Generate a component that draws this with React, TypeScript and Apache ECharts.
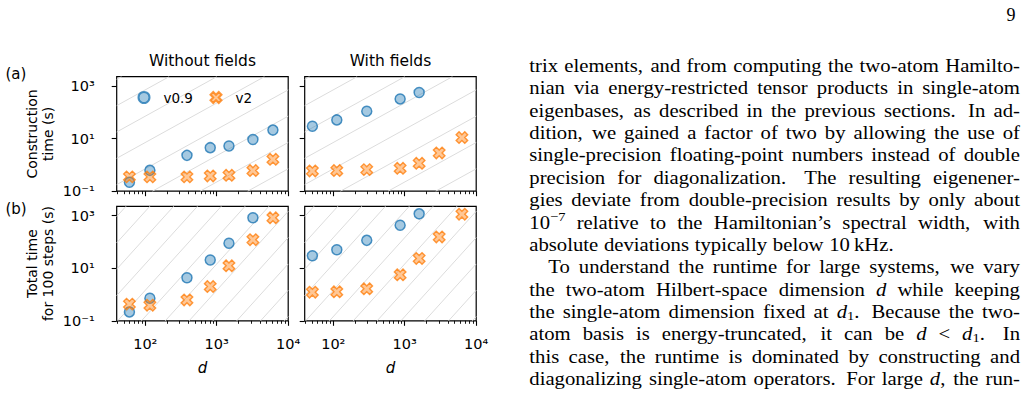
import React, { useEffect, useRef } from 'react';
import * as echarts from 'echarts';

// ---------------- data ----------------
const panelTitles = ['Without fields', 'With fields'];
const rowLabels = ['(a)', '(b)'];
const rowAxisTitles = ['Construction\ntime (s)', 'Total time\nfor 100 steps (s)'];
const seriesNames = ['v0.9', 'v2'];
const xAxisTitle = 'd';

const dWithout = [60, 116, 383, 811, 1482, 3206, 6110];
const dWith = [51, 112, 294, 862, 1591, 3034, 6310];

const constrWithoutV09 = [0.218, 0.62, 2.3, 4.5, 5.2, 9.2, 21];
const constrWithoutV2 = [0.35, 0.35, 0.35, 0.38, 0.4, 0.61, 1.63];
const constrWithV09 = [29.4, 51, 109, 320, 561];
const constrWithV2 = [0.59, 0.61, 0.66, 0.74, 1.15, 2.84, 10.9];
const totalWithoutV09 = [0.217, 0.72, 4.3, 20.4, 88, 820];
const totalWithoutV2 = [0.43, 0.39, 0.62, 2.0, 12.3, 121, 820];
const totalWithV09 = [29.7, 50, 114, 427, 1160];
const totalWithV2 = [1.22, 1.26, 1.64, 5.6, 23.4, 154, 1120];

const xTickExponents = [2, 3, 4];
const yTickExponents = [-1, 1, 3];
const xLogRange = [1.6, 4];
const yLogRange = [-1, 3.35];
const guideSlopes = [1.5, 3];
const guidePhases = [-0.15, 0.16];

const pageNumber = '9';
const bodyLines = [
  'trix elements, and from computing the two-atom Hamilto-',
  'nian via energy-restricted tensor products in single-atom',
  'eigenbases, as described in the previous sections. In ad-',
  'dition, we gained a factor of two by allowing the use of',
  'single-precision floating-point numbers instead of double',
  'precision for diagonalization. The resulting eigenener-',
  'gies deviate from double-precision results by only about',
  '10^{\u22127} relative to the Hamiltonian\u2019s spectral width, with',
  'absolute deviations typically below 10\u2009kHz.',
  'To understand the runtime for large systems, we vary',
  'the two-atom Hilbert-space dimension *d* while keeping',
  'the single-atom dimension fixed at *d*_{1}. Because the two-',
  'atom basis is energy-truncated, it can be *d* < *d*_{1}. In',
  'this case, the runtime is dominated by constructing and',
  'diagonalizing single-atom operators. For large *d*, the run-',
];
const paragraphEndLines = [8];
const indentedLines = [9];

// ---------------- layout ----------------
const SANS = '"DejaVu Sans"';
const SERIF = '"Liberation Serif"';
const colLeft = [116.7, 304.7];
const rowTop = [76.7, 206.3];
const panelW = 171.5;
const panelH = 114.5;

const SUP: Record<string, string> = { '-': '\u207b', '0': '\u2070', '1': '\u00b9', '2': '\u00b2', '3': '\u00b3', '4': '\u2074', '5': '\u2075', '6': '\u2076', '7': '\u2077', '8': '\u2078', '9': '\u2079' };
const powLabel = (v: number) => '10' + String(Math.round(v)).split('').map((c) => SUP[c] || c).join('');

const xPlus = [[-1, -2], [0, -1], [1, -2], [2, -1], [1, 0], [2, 1], [1, 2], [0, 1], [-1, 2], [-2, 1], [-1, 0], [-2, -1]];
const xSymbol = 'path://' + xPlus.map((p, i) => (i ? 'L' : 'M') + (p[0] + 2) + ' ' + (p[1] + 2)).join('') + 'Z';

function minorTicks(): number[] {
  const out: number[] = [];
  for (let n = 1; n <= 3; n++) for (let k = 2; k <= 9; k++) {
    const v = Math.log10(k * Math.pow(10, n));
    if (v >= xLogRange[0] && v <= xLogRange[1]) out.push(v);
  }
  return out;
}

function guides(p: number, phase: number) {
  const [x0, x1] = xLogRange;
  const [y0, y1] = yLogRange;
  const res: any[] = [];
  for (let c = Math.floor(y0 - p * x1) - 1 + phase; c <= y1 - p * x0 + 1; c += 1) {
    const xa = Math.max(x0, (y0 - c) / p);
    const xb = Math.min(x1, (y1 - c) / p);
    if (xb - xa > 1e-6) res.push({ coords: [[xa, p * xa + c], [xb, p * xb + c]] });
  }
  return res;
}

function buildBodyText(): any[] {
  const canvas = document.createElement('canvas');
  const ctx = canvas.getContext('2d')!;
  const size = 18;
  const sx = 1.15;
  const left = 529.3, right = 1020, y0 = 66, step = 22.36, indent = 19;
  const els: any[] = [];
  const parse = (w: string) => w.split(/(\*[^*]+\*|_\{[^}]*\}|\^\{[^}]*\})/).filter((s) => s.length).map((s) => {
    if (s[0] === '*') return { text: s.slice(1, -1), font: `italic ${size}px ${SERIF}`, dy: 0 };
    if (s.startsWith('_{')) return { text: s.slice(2, -1), font: `${size * 0.7}px ${SERIF}`, dy: 4 };
    if (s.startsWith('^{')) return { text: s.slice(2, -1), font: `${size * 0.7}px ${SERIF}`, dy: -6 };
    return { text: s, font: `${size}px ${SERIF}`, dy: 0 };
  });
  const meas = (t: string, f: string) => { ctx.font = f; return ctx.measureText(t).width * sx; };
  const spaceW = meas(' ', `${size}px ${SERIF}`) * 1.1;
  bodyLines.forEach((line, li) => {
    const words = line.split(' ').map((w) => {
      const segs = parse(w).map((s) => ({ ...s, w: meas(s.text, s.font) }));
      return { segs, w: segs.reduce((a, s) => a + s.w, 0), raw: w };
    });
    const x0 = left + (indentedLines.includes(li) ? indent : 0);
    const total = words.reduce((a, w) => a + w.w, 0);
    const weights = words.slice(0, -1).map((w) => (/[.]$/.test(w.raw) ? 1.5 : /[,]$/.test(w.raw) ? 1.15 : 1));
    const wsum = weights.reduce((a, b) => a + b, 0);
    const justify = !paragraphEndLines.includes(li);
    const unit = justify ? (right - x0 - total) / wsum : spaceW;
    let x = x0;
    const y = y0 + li * step;
    words.forEach((w, wi) => {
      let px = x;
      w.segs.forEach((s) => {
        els.push({ type: 'text', x: px, y: y + s.dy, scaleX: sx, scaleY: 1, silent: true, style: { text: s.text, font: s.font, fill: '#000', textAlign: 'left', textVerticalAlign: 'middle', align: 'left', verticalAlign: 'middle' } });
        px += s.w;
      });
      x += w.w + (wi < weights.length ? unit * weights[wi] : 0);
    });
  });
  return els;
}

export default function App() {
  const ref = useRef<HTMLDivElement>(null);
  useEffect(() => {
    if (!ref.current) return;
    const chart = echarts.init(ref.current, undefined, { renderer: 'svg' });
    const panels = [
      { row: 0, col: 0, d: dWithout, a: constrWithoutV09, b: constrWithoutV2 },
      { row: 0, col: 1, d: dWith, a: constrWithV09, b: constrWithV2 },
      { row: 1, col: 0, d: dWithout, a: totalWithoutV09, b: totalWithoutV2 },
      { row: 1, col: 1, d: dWith, a: totalWithV09, b: totalWithV2 },
    ];
    const minor = minorTicks();
    const grid: any[] = [], xAxis: any[] = [], yAxis: any[] = [], series: any[] = [];
    const tickStyle = { color: '#000', width: 1.1 };
    const labelStyle = { color: '#000', fontSize: 14.5, fontFamily: SANS };
    panels.forEach((p, i) => {
      grid.push({ left: colLeft[p.col], top: rowTop[p.row], width: panelW, height: panelH, show: true, borderColor: '#000', borderWidth: 1.2, backgroundColor: 'transparent' });
      xAxis.push({
        type: 'value', gridIndex: i, min: xLogRange[0], max: xLogRange[1], position: 'bottom', offset: 0,
        axisLine: { show: false, onZero: false }, splitLine: { show: false },
        axisTick: { show: true, customValues: xTickExponents, length: 5, lineStyle: tickStyle },
        axisLabel: { show: p.row === 1, customValues: xTickExponents, formatter: powLabel, margin: 16, ...labelStyle },
      });
      xAxis.push({
        type: 'value', gridIndex: i, min: xLogRange[0], max: xLogRange[1], position: 'bottom', offset: 0,
        axisLine: { show: false, onZero: false }, splitLine: { show: false },
        axisTick: { show: true, customValues: minor, length: 3, lineStyle: { color: '#000', width: 0.9 } },
        axisLabel: { show: false, customValues: minor },
      });
      yAxis.push({
        type: 'value', gridIndex: i, min: yLogRange[0], max: yLogRange[1], position: 'left', offset: 0,
        axisLine: { show: false, onZero: false }, splitLine: { show: false },
        axisTick: { show: true, customValues: yTickExponents, length: 5, lineStyle: tickStyle },
        axisLabel: { show: p.col === 0, customValues: yTickExponents, formatter: powLabel, margin: 22, padding: [8, 0, 0, 0], ...labelStyle },
      });
      series.push({
        type: 'lines', coordinateSystem: 'cartesian2d', xAxisIndex: 2 * i, yAxisIndex: i, silent: true, z: 1,
        lineStyle: { color: '#dcdcdc', width: 1, opacity: 1 }, data: guides(guideSlopes[p.row], guidePhases[p.row]),
      });
      series.push({
        type: 'scatter', name: seriesNames[0], xAxisIndex: 2 * i, yAxisIndex: i, symbol: 'circle', symbolSize: 10, z: 3,
        itemStyle: { color: 'rgba(31,119,180,0.5)', borderColor: '#1f77b4', borderWidth: 1.5 },
        emphasis: { disabled: true },
        data: p.a.map((t, k) => [Math.log10(p.d[k]), Math.log10(t)]),
      });
      series.push({
        type: 'scatter', name: seriesNames[1], xAxisIndex: 2 * i, yAxisIndex: i, symbol: xSymbol, symbolSize: 11.5, z: 3,
        itemStyle: { color: 'rgba(255,127,14,0.55)', borderColor: '#ff7f0e', borderWidth: 1.4 },
        emphasis: { disabled: true },
        data: p.b.map((t, k) => [Math.log10(p.d[k]), Math.log10(t)]),
      });
    });
    const legendText = { color: '#000', fontSize: 13.5, fontFamily: SANS, padding: [0, 0, 0, 9] };
    const graphic: any[] = [];
    panelTitles.forEach((t, c) => graphic.push({ type: 'text', x: colLeft[c] + panelW / 2, y: 61, silent: true, style: { text: t, font: `15.5px ${SANS}`, fill: '#000', textAlign: 'center', textVerticalAlign: 'middle', align: 'center', verticalAlign: 'middle' } }));
    rowLabels.forEach((t, r) => graphic.push({ type: 'text', x: 5.5, y: r === 0 ? 74 : 209, silent: true, style: { text: t, font: `15px ${SANS}`, fill: '#000', textAlign: 'left', textVerticalAlign: 'middle', align: 'left', verticalAlign: 'middle' } }));
    rowAxisTitles.forEach((t, r) => graphic.push({ type: 'text', x: 40, y: rowTop[r] + panelH / 2, rotation: Math.PI / 2, silent: true, style: { text: t, font: `14px ${SANS}`, lineHeight: 16.5, fill: '#000', textAlign: 'center', textVerticalAlign: 'middle', align: 'center', verticalAlign: 'middle' } }));
    colLeft.forEach((l) => graphic.push({ type: 'text', x: l + panelW / 2, y: 368, silent: true, style: { text: xAxisTitle, font: `italic 15px ${SANS}`, fill: '#000', textAlign: 'center', textVerticalAlign: 'middle', align: 'center', verticalAlign: 'middle' } }));
    graphic.push({ type: 'text', x: 1011, y: 15, silent: true, style: { text: pageNumber, font: `18px ${SERIF}`, fill: '#000', textAlign: 'center', textVerticalAlign: 'middle', align: 'center', verticalAlign: 'middle' } });
    graphic.push(...buildBodyText());

    chart.setOption({
      animation: false,
      backgroundColor: '#fff',
      grid, xAxis, yAxis, series, graphic,
      legend: [
        { data: [seriesNames[0]], left: 137.5, top: 90.5, itemWidth: 11, itemHeight: 11, selectedMode: false, textStyle: legendText, padding: 0 },
        { data: [seriesNames[1]], left: 209.5, top: 90.5, itemWidth: 11, itemHeight: 11, selectedMode: false, textStyle: legendText, padding: 0 },
      ],
    });
    return () => chart.dispose();
  }, []);
  return <div ref={ref} style={{ position: 'fixed', left: 0, top: 0, width: 1028, height: 404, background: '#fff' }} />;
}
